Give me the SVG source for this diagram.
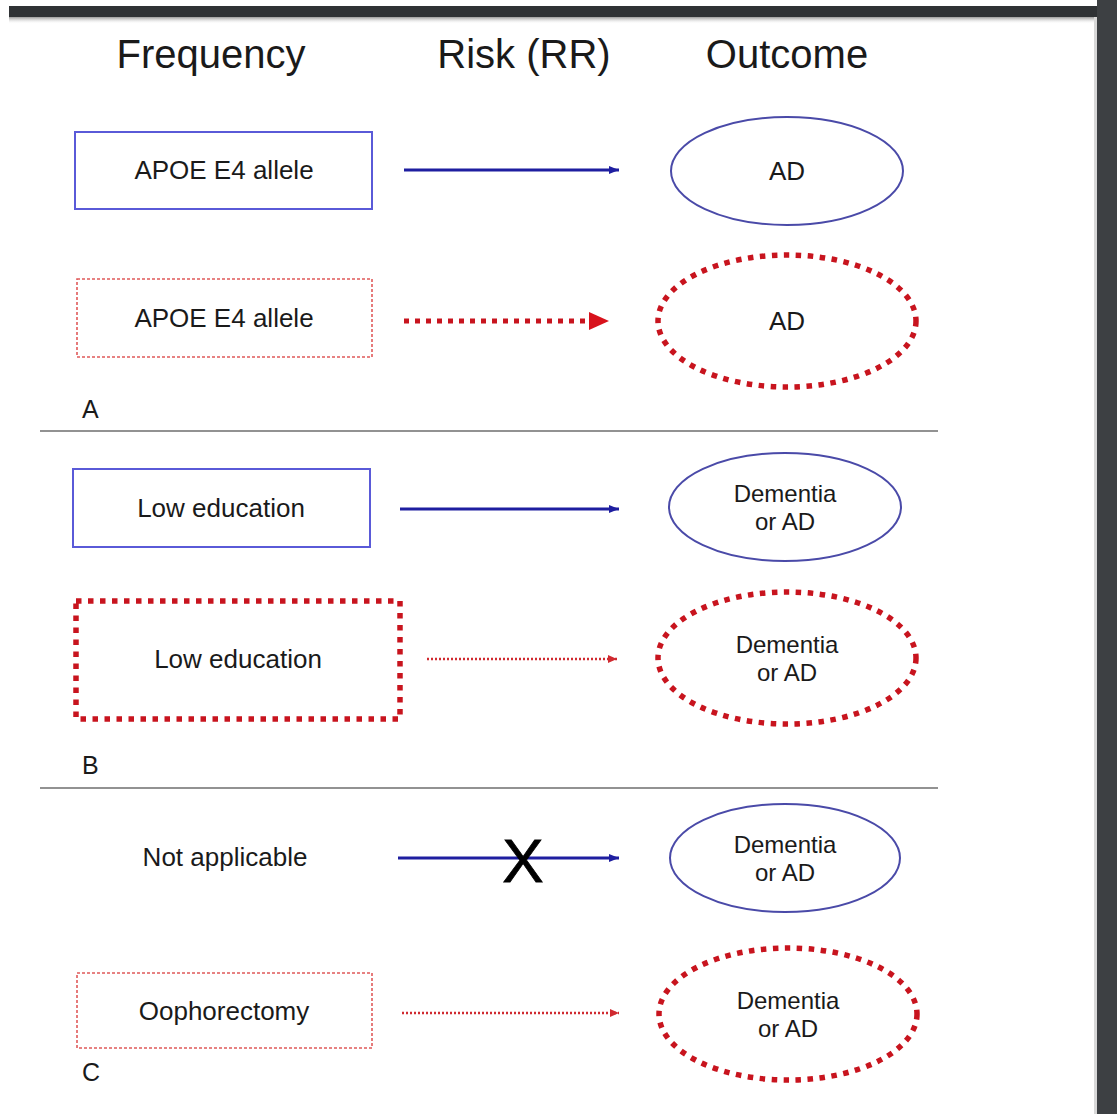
<svg xmlns="http://www.w3.org/2000/svg" width="1117" height="1114" viewBox="0 0 1117 1114">
<defs>
<style>
text{font-family:"Liberation Sans",Arial,sans-serif;fill:#1a1a1a}
.hdr{font-size:40px;text-anchor:middle}
.lbl{font-size:26px;text-anchor:middle}
.ell2{font-size:24px;text-anchor:middle}
.sec{font-size:25px}
.bluebox{fill:#fff;stroke:#5a5ad8;stroke-width:2}
.blueell{fill:#fff;stroke:#4a4aa8;stroke-width:2}
.redthin{fill:#fff;stroke:#e05a5a;stroke-width:1.6;stroke-dasharray:3 2}
.redthick{fill:#fff;stroke:#c8141e;stroke-width:5.5;stroke-dasharray:5.5 6.5}
.bluearrow{stroke:#1e1ea0;stroke-width:2.8;fill:none}
.redarrowthick{stroke:#c8141e;stroke-width:5;stroke-dasharray:5 6;fill:none}
.redarrowthin{stroke:#d02a30;stroke-width:2.5;stroke-dasharray:2 2;fill:none}
.sep{stroke:#6e6e6e;stroke-width:1.6}
</style>
<marker id="mBlue" markerUnits="userSpaceOnUse" markerWidth="12" markerHeight="10" refX="10" refY="4" orient="auto">
<path d="M0,0 L10,4 L0,8 Z" fill="#1e1ea0"/>
</marker>
<marker id="mRedThin" markerUnits="userSpaceOnUse" markerWidth="12" markerHeight="10" refX="9" refY="4" orient="auto">
<path d="M0,0 L9,4 L0,8 Z" fill="#d02a30"/>
</marker>
<linearGradient id="shadowTop" x1="0" y1="0" x2="0" y2="1">
<stop offset="0" stop-color="#9a9a9a"/>
<stop offset="1" stop-color="#ffffff" stop-opacity="0"/>
</linearGradient>
</defs>
<rect x="0" y="0" width="1117" height="1114" fill="#ffffff"/>
<rect x="9" y="6" width="1108" height="11" fill="#2f3235"/>
<rect x="9" y="17" width="1088" height="7" fill="url(#shadowTop)"/>
<rect x="1097" y="0" width="20" height="1114" fill="#3d4043"/>
<rect x="1094" y="17" width="3" height="1097" fill="#d8d8d8"/>

<g id="headers">
<text class="hdr" x="211" y="68">Frequency</text>
<text class="hdr" x="524" y="68">Risk (RR)</text>
<text class="hdr" x="787" y="68">Outcome</text>
</g>

<g id="separators">
<line class="sep" x1="40" y1="431" x2="938" y2="431"/>
<line class="sep" x1="40" y1="788" x2="938" y2="788"/>
</g>

<g id="section-labels">
<text class="sec" x="82" y="418">A</text>
<text class="sec" x="82" y="774">B</text>
<text class="sec" x="82" y="1081">C</text>
</g>

<g id="connectors">
<line class="bluearrow" x1="404" y1="170" x2="619" y2="170" marker-end="url(#mBlue)"/>
<line class="redarrowthick" x1="404" y1="321" x2="592" y2="321"/>
<polygon points="589,312 609,321 589,330" fill="#d8121c"/>
<line class="bluearrow" x1="400" y1="509" x2="619" y2="509" marker-end="url(#mBlue)"/>
<line class="redarrowthin" x1="427" y1="659" x2="617" y2="659" marker-end="url(#mRedThin)"/>
<line class="bluearrow" x1="398" y1="858" x2="619" y2="858" marker-end="url(#mBlue)"/>
<line class="redarrowthin" x1="402" y1="1013" x2="619" y2="1013" marker-end="url(#mRedThin)"/>
<text id="cross" x="523" y="882" style="font-size:62px;text-anchor:middle;fill:#000;stroke:#000;stroke-width:0.8">X</text>
</g>

<g id="node-apoe1">
<rect class="bluebox" x="75" y="132" width="297" height="77"/>
<text class="lbl" x="224" y="179">APOE E4 allele</text>
</g>
<g id="node-ad1">
<ellipse class="blueell" cx="787" cy="171" rx="116" ry="54"/>
<text class="lbl" x="787" y="180">AD</text>
</g>
<g id="node-apoe2">
<rect class="redthin" x="77" y="279" width="295" height="78"/>
<text class="lbl" x="224" y="327">APOE E4 allele</text>
</g>
<g id="node-ad2">
<ellipse class="redthick" cx="787" cy="321" rx="129" ry="66"/>
<text class="lbl" x="787" y="330">AD</text>
</g>

<g id="node-edu1">
<rect class="bluebox" x="73" y="469" width="297" height="78"/>
<text class="lbl" x="221" y="517">Low education</text>
</g>
<g id="node-dem1">
<ellipse class="blueell" cx="785" cy="507" rx="116" ry="54"/>
<text class="ell2" x="785" y="502">Dementia</text>
<text class="ell2" x="785" y="530">or AD</text>
</g>
<g id="node-edu2">
<rect class="redthick" x="76" y="601" width="324" height="118"/>
<text class="lbl" x="238" y="668">Low education</text>
</g>
<g id="node-dem2">
<ellipse class="redthick" cx="787" cy="658" rx="129" ry="66"/>
<text class="ell2" x="787" y="653">Dementia</text>
<text class="ell2" x="787" y="681">or AD</text>
</g>

<g id="node-na">
<text class="lbl" x="225" y="866">Not applicable</text>
</g>
<g id="node-dem3">
<ellipse class="blueell" cx="785" cy="858" rx="115" ry="54"/>
<text class="ell2" x="785" y="853">Dementia</text>
<text class="ell2" x="785" y="881">or AD</text>
</g>
<g id="node-ooph">
<rect class="redthin" x="77" y="973" width="295" height="75"/>
<text class="lbl" x="224" y="1020">Oophorectomy</text>
</g>
<g id="node-dem4">
<ellipse class="redthick" cx="788" cy="1014" rx="129" ry="66"/>
<text class="ell2" x="788" y="1009">Dementia</text>
<text class="ell2" x="788" y="1037">or AD</text>
</g>
</svg>
